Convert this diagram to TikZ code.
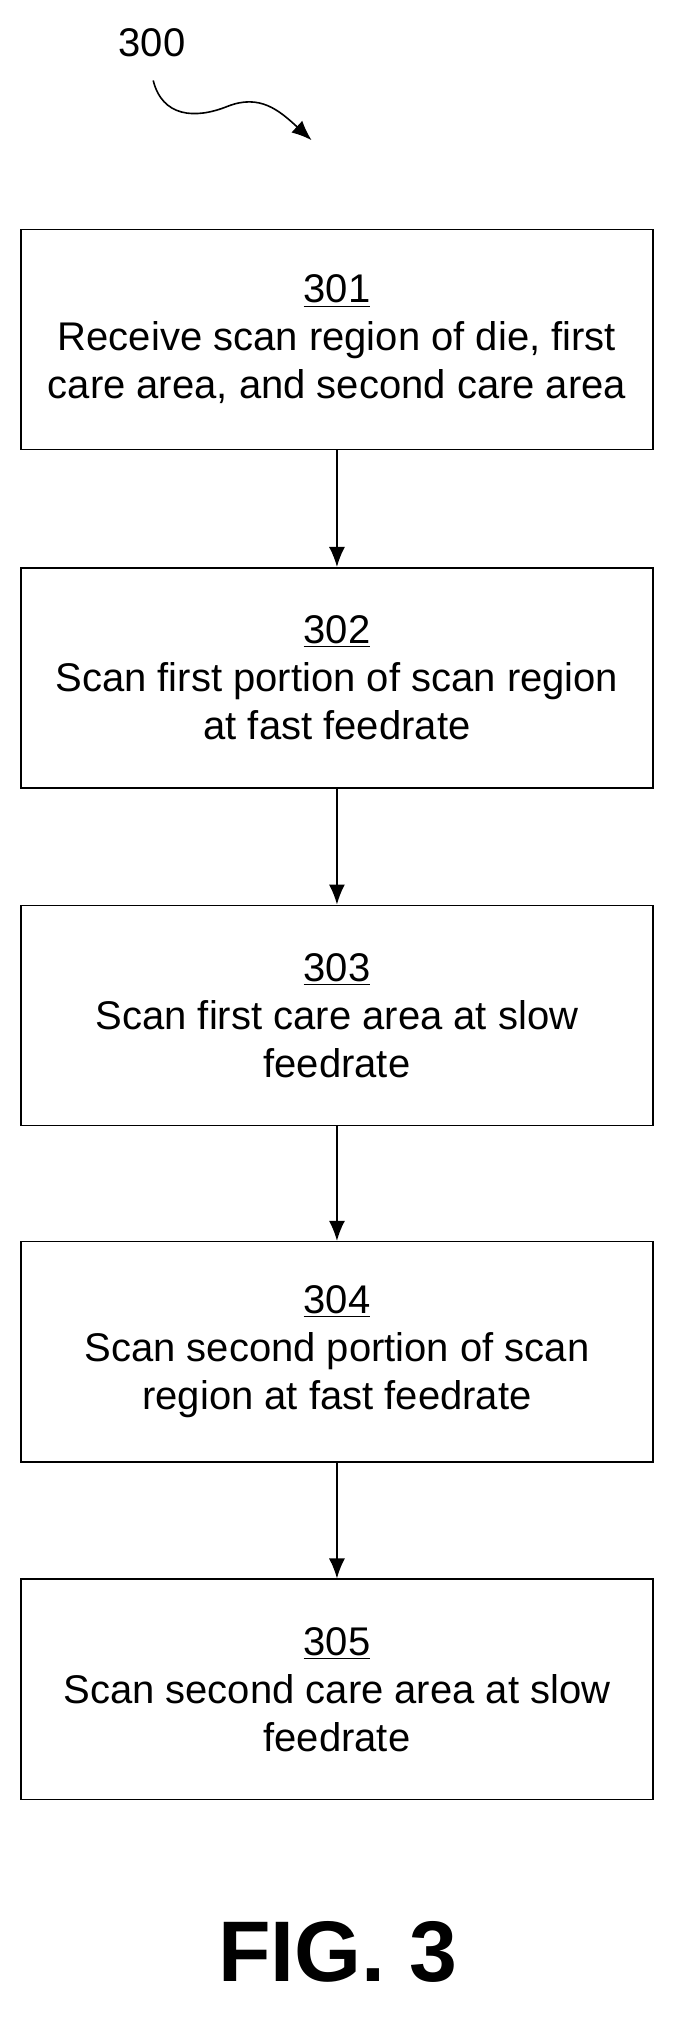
\documentclass[tikz,border=0pt]{standalone}
\usepackage{fontspec}
\setmainfont{Liberation Sans}
\usetikzlibrary{positioning,arrows.meta}
\tikzset{
  stepbox/.style={draw,thick,minimum width=316pt,minimum height=110pt,align=center,
    font=\fontsize{20}{24}\selectfont,inner sep=2pt},
  flow/.style={-{Latex[length=10pt,width=8pt]},thick}
}
\begin{document}
\begin{tikzpicture}[x=0.649pt,y=-0.649pt]
\useasboundingbox (0,0) rectangle (520,1568);
\node[font=\fontsize{20}{24}\selectfont] (lbl) at (117,33) {300};
\coordinate (sq0) at (118,62);
\coordinate (sq1) at (240,108);
\draw[flow] (sq0) .. controls (125,90) and (150,92) .. (175,82) .. controls (200,72) and (215,85) .. (sq1);
\node[stepbox] (s301) at (259.5,261.5) {\underline{301}\\Receive scan region of die, first\\care area, and second care area};
\node[stepbox] (s302) at (259.5,522) {\underline{302}\\Scan first portion of scan region\\at fast feedrate};
\node[stepbox] (s303) at (259.5,782) {\underline{303}\\Scan first care area at slow\\feedrate};
\node[stepbox] (s304) at (259.5,1041) {\underline{304}\\Scan second portion of scan\\region at fast feedrate};
\node[stepbox] (s305) at (259.5,1301) {\underline{305}\\Scan second care area at slow\\feedrate};
\draw[flow] (s301) -- (s302);
\draw[flow] (s302) -- (s303);
\draw[flow] (s303) -- (s304);
\draw[flow] (s304) -- (s305);
\node[font=\fontsize{43}{48}\selectfont\bfseries] (fig) at (260,1503) {FIG. 3};
\end{tikzpicture}
\end{document}
